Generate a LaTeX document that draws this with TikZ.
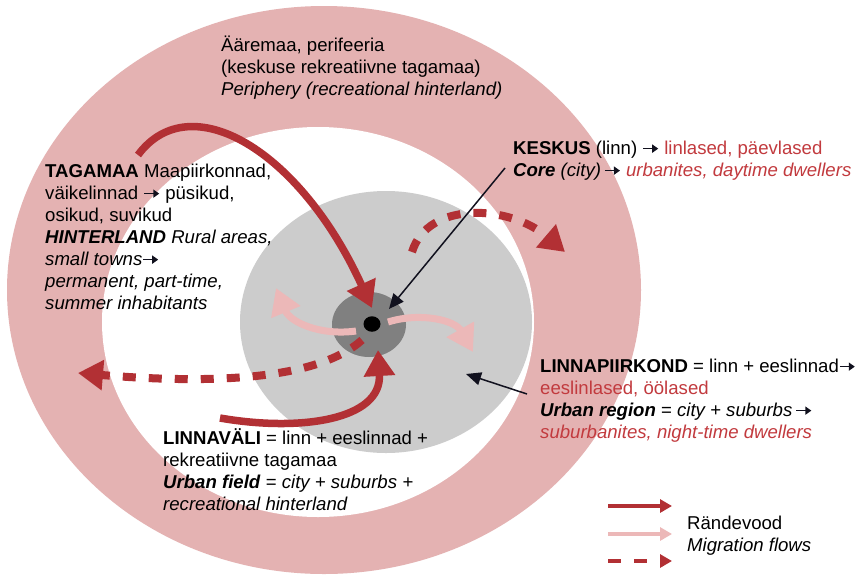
\documentclass[tikz,border=0pt]{standalone}
\usepackage{fontspec}
\setmainfont{Liberation Sans}
\usetikzlibrary{arrows.meta,shapes.geometric}
\definecolor{ring}{RGB}{228,178,178}
\definecolor{regiongray}{RGB}{204,204,204}
\definecolor{coregray}{RGB}{128,128,128}
\definecolor{flowred}{RGB}{178,48,52}
\definecolor{flowpink}{RGB}{236,184,184}
\definecolor{redtext}{RGB}{194,58,62}
\definecolor{ink}{RGB}{17,17,30}
\newcommand\tarr{\tikz[baseline=-0.3em,x=1pt,y=1pt]\draw[ink,line width=1.7pt,-{Triangle[length=6pt,width=8pt]}] (0,0) -- (15,0);}
\begin{document}
\begin{tikzpicture}[x=1pt,y=-1pt,
  zone/.style={ellipse, inner sep=0pt, draw=none},
  flow/.style={draw=flowred, line width=7.5pt, -{Triangle[length=26pt,width=30pt]}},
  backflow/.style={draw=flowpink, line width=7pt, -{Triangle[length=26pt,width=30pt]}},
  dflow/.style={draw=flowred, line width=8pt, dash pattern=on 13pt off 13pt, -{Triangle[length=25pt,width=29pt]}},
  pointer/.style={draw=ink, line width=1.5pt, -{Triangle[length=15pt,width=13pt]}},
  label/.style={anchor=north west, inner sep=0pt, align=left, font=\fontsize{18.6}{22}\selectfont},
  legsolid/.style={draw=flowred, line width=4pt, -{Triangle[length=12pt,width=13pt]}},
  legpink/.style={draw=flowpink, line width=4pt, -{Triangle[length=12pt,width=13pt]}},
  legdash/.style={draw=flowred, line width=4pt, dash pattern=on 13pt off 13pt, -{Triangle[length=12pt,width=13pt]}}
]
\useasboundingbox (0,0) rectangle (857,574);
\fill[white] (0,0) rectangle (857,574);

% zones
\node[zone, fill=ring, minimum width=634pt, minimum height=568pt] (outer) at (324,290) {};
\node[zone, fill=white, minimum width=432pt, minimum height=390pt] (hole) at (318,322) {};
\node[zone, fill=regiongray, minimum width=292pt, minimum height=262pt] (region) at (386,322) {};
\node[zone, fill=coregray, minimum width=74pt, minimum height=65pt] (core) at (369,324.5) {};

% flow end points
\coordinate (a1s) at (138,155);
\coordinate (a1e) at (372,308);
\coordinate (a2s) at (220,418);
\coordinate (a2e) at (378,350);
\coordinate (p1s) at (356,331);
\coordinate (p1e) at (276,288);
\coordinate (p2s) at (388,322);
\coordinate (p2e) at (473,352);
\coordinate (d1s) at (362,340);
\coordinate (d1e) at (78,373);
\coordinate (d2s) at (412,252);
\coordinate (d2e) at (565,252);

\draw[flow] (a1s) .. controls (190,85) and (300,150) .. (a1e);
\draw[flow] (a2s) .. controls (300,432) and (382,420) .. (a2e);
\draw[backflow] (p1s) .. controls (320,336) and (290,322) .. (p1e);
\draw[backflow] (p2s) .. controls (420,312) and (455,320) .. (p2e);
\draw[dflow] (d1s) .. controls (320,378) and (220,385) .. (d1e);
\draw[dflow] (d2s) .. controls (428,200) and (510,205) .. (d2e);

\node[zone, fill=black, minimum width=17pt, minimum height=15.5pt] (dot) at (372,324) {};

% texts
\node[label] (peri) at (221,35.6) {\strut Ääremaa, perifeeria\\(keskuse rekreatiivne tagamaa)\\\textit{Periphery (recreational hinterland)}};
\node[label] (taga) at (45,161.6) {\strut\textbf{TAGAMAA} Maapiirkonnad,\\väikelinnad \tarr{} püsikud,\\osikud, suvikud\\\textbf{\textit{HINTERLAND}} \textit{Rural areas,}\\\textit{small towns}\tarr\\\textit{permanent, part-time,}\\\textit{summer inhabitants}};
\node[label] (kesk) at (513,138.6) {\strut\textbf{KESKUS} (linn) \tarr{} \textcolor{redtext}{linlased, päevlased}\\\textbf{\textit{Core}} \textit{(city)}\,\tarr{} \textcolor{redtext}{\textit{urbanites, daytime dwellers}}};
\node[label] (lpk) at (540,356.6) {\strut\textbf{LINNAPIIRKOND} = linn + eeslinnad\tarr\\\textcolor{redtext}{eeslinlased, öölased}\\\textbf{\textit{Urban region}} = \textit{city + suburbs}\,\tarr\\\textcolor{redtext}{\textit{suburbanites, night-time dwellers}}};
\node[label] (lv) at (163,428.6) {\strut\textbf{LINNAVÄLI} = linn + eeslinnad +\\rekreatiivne tagamaa\\\textbf{\textit{Urban field}} = \textit{city + suburbs +}\\\textit{recreational hinterland}};
\node[label] (leg) at (687,513.6) {\strut Rändevood\\\textit{Migration flows}};

% pointers
\coordinate (k1s) at (505,168);
\coordinate (k1e) at (389,309);
\coordinate (k2s) at (527,394);
\coordinate (k2e) at (466,374);
\draw[pointer] (k1s) -- (k1e);
\draw[pointer] (k2s) -- (k2e);

% legend
\coordinate (l1s) at (608,506);
\coordinate (l1e) at (672,506);
\coordinate (l2s) at (608,534);
\coordinate (l2e) at (672,534);
\coordinate (l3s) at (608,561);
\coordinate (l3e) at (672,561);
\draw[legsolid] (l1s) -- (l1e);
\draw[legpink] (l2s) -- (l2e);
\draw[legdash] (l3s) -- (l3e);
\end{tikzpicture}
\end{document}
